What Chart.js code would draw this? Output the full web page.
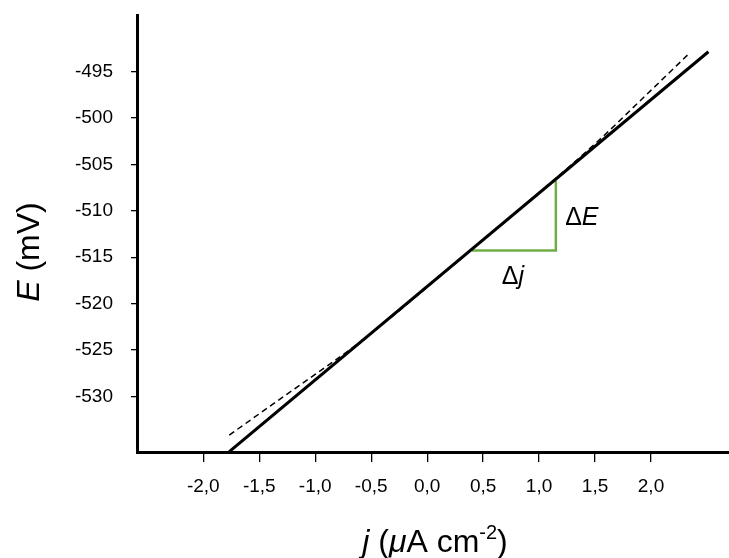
<!DOCTYPE html>
<html>
<head>
<meta charset="utf-8">
<script src="https://cdn.jsdelivr.net/npm/chart.js@4"></script>
<style>
  html, body { margin: 0; padding: 0; background: #fff; }
  #wrap { width: 729px; height: 558px; }
</style>
</head>
<body>
<div id="wrap"><canvas id="chart" width="729" height="558"></canvas></div>
<script>
// ticks
const xTicks = [-2, -1.5, -1, -0.5, 0, 0.5, 1, 1.5, 2];
const yTicks = [-495, -500, -505, -510, -515, -520, -525, -530];

// straight line (solid)
const fitJ = [-1.768, 2.513];
const fitE = [-535.94, -492.87];

// measured curve (dashed)
const curveJ = [-1.768, -1.181, -0.600, 0.455, 1.518, 1.947, 2.349];
const curveE = [-534.15, -529.14, -524.13, -513.58, -502.59, -497.64, -492.97];

// slope triangle
const triJ = [0.40, 1.15, 1.15];
const triE = [-514.28, -514.28, -506.79];

const FONT = "'Liberation Sans', Arial, sans-serif";

function pts(xs, ys) {
    return xs.map((x, i) => ({ x: x, y: ys[i] }));
}

// draws text pieces with different fonts one after another
function drawRuns(ctx, runs, x, y) {
    let total = 0;
    runs.forEach(r => { ctx.font = r.font; r.w = ctx.measureText(r.t).width; total += r.w; });
    let cx = x - total / 2;
    runs.forEach(r => {
        ctx.font = r.font;
        ctx.fillText(r.t, cx, y + (r.dy || 0));
        cx += r.w;
    });
}

const labelsPlugin = {
    id: "labels",
    afterDraw(chart) {
        const ctx = chart.ctx;
        const xs = chart.scales.x, ys = chart.scales.y;
        ctx.save();
        ctx.fillStyle = "#000";
        ctx.textAlign = "left";
        ctx.textBaseline = "alphabetic";

        // x title
        drawRuns(ctx, [
            { t: "j", font: "italic 32px " + FONT },
            { t: " (", font: "32px " + FONT },
            { t: "\u03bc", font: "italic 32px " + FONT },
            { t: "A cm", font: "32px " + FONT },
            { t: "-2", font: "20px " + FONT, dy: -13 },
            { t: ")", font: "32px " + FONT }
        ], 435, 552);

        // y title
        ctx.save();
        ctx.translate(39, 252);
        ctx.rotate(-Math.PI / 2);
        drawRuns(ctx, [
            { t: "E", font: "italic 32px " + FONT },
            { t: " (mV)", font: "32px " + FONT }
        ], 0, 0);
        ctx.restore();

        // triangle labels
        const xr = xs.getPixelForValue(triJ[1]);
        const xl = xs.getPixelForValue(triJ[0]);
        const yb = ys.getPixelForValue(triE[0]);
        const yt = ys.getPixelForValue(triE[2]);
        drawRuns(ctx, [
            { t: "\u0394", font: "25px " + FONT },
            { t: "E", font: "italic 25px " + FONT }
        ], xr + 26, (yb + yt) / 2 + 9);
        drawRuns(ctx, [
            { t: "\u0394", font: "25px " + FONT },
            { t: "j", font: "italic 25px " + FONT }
        ], (xl + xr) / 2 - 1, yb + 33);
        ctx.restore();
    }
};

new Chart(document.getElementById("chart"), {
    type: "line",
    data: {
        datasets: [
            {
                data: pts(fitJ, fitE),
                borderColor: "#000",
                borderWidth: 3,
                pointRadius: 0,
                tension: 0
            },
            {
                data: pts(curveJ, curveE),
                borderColor: "#000",
                borderWidth: 1.5,
                borderDash: [6, 4],
                pointRadius: 0,
                cubicInterpolationMode: "monotone"
            },
            {
                data: pts(triJ, triE),
                borderColor: "#70ad47",
                borderWidth: 2.5,
                pointRadius: 0,
                tension: 0
            }
        ]
    },
    options: {
        responsive: false,
        devicePixelRatio: 1,
        animation: false,
        layout: { padding: { top: 15, left: 0, right: 0, bottom: 0 } },
        plugins: {
            legend: { display: false },
            tooltip: { enabled: false }
        },
        scales: {
            x: {
                type: "linear",
                min: -2.5925,
                max: 2.697,
                afterFit: s => { s.height = 106; s.paddingLeft = 0; s.paddingRight = 0; },
                afterBuildTicks: s => { s.ticks = xTicks.map(v => ({ value: v })); },
                border: { display: true, color: "#000", width: 3 },
                grid: { display: true, drawOnChartArea: false, drawTicks: true, tickLength: 10, color: "#000", lineWidth: 1.3 },
                ticks: {
                    color: "#000",
                    padding: 13,
                    font: { family: FONT, size: 19 },
                    callback: v => v.toFixed(1).replace(".", ",")
                }
            },
            y: {
                type: "linear",
                min: -535.977,
                max: -488.915,
                afterFit: s => { s.width = 137; s.paddingTop = 0; s.paddingBottom = 0; },
                afterBuildTicks: s => { s.ticks = yTicks.map(v => ({ value: v })); },
                border: { display: true, color: "#000", width: 3 },
                grid: { display: true, drawOnChartArea: false, drawTicks: true, tickLength: 6, color: "#000", lineWidth: 1.3 },
                ticks: {
                    color: "#000",
                    padding: 18,
                    font: { family: FONT, size: 19 },
                    callback: v => String(v)
                }
            }
        }
    },
    plugins: [labelsPlugin]
});
</script>
</body>
</html>
